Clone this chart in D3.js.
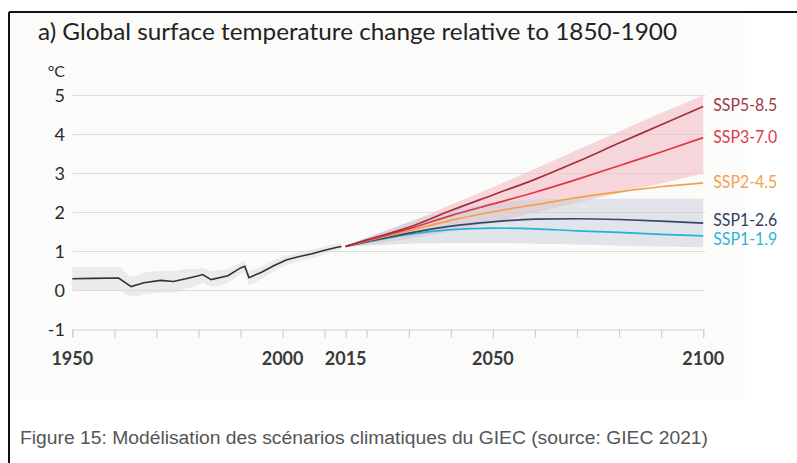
<!DOCTYPE html>
<html lang="fr">
<head>
<meta charset="utf-8">
<title>GIEC - température globale</title>
<script src="https://d3js.org/d3.v7.min.js"></script>
<style>
  body { margin: 0; background: #fff; }
  svg { display: block; }
  .tick-lbl { font-family: Lato, "Open Sans", sans-serif; font-size: 18px; fill: #2a2a2a; }
</style>
</head>
<body>
<script>
// historique (moyenne lissée) et plage grise
var histYears = [1950, 1955, 1961, 1964, 1967, 1971, 1974, 1977, 1980, 1981, 1983, 1987, 1990, 1991, 1992, 1995, 1998, 2001, 2004, 2007, 2010, 2013, 2014];
var histMean  = [0.30, 0.31, 0.32, 0.10, 0.20, 0.26, 0.23, 0.30, 0.38, 0.41, 0.28, 0.38, 0.58, 0.62, 0.33, 0.47, 0.64, 0.79, 0.87, 0.94, 1.03, 1.11, 1.13];
var histLow   = [0.00, 0.00, 0.00, -0.15, -0.10, -0.05, -0.05, 0.05, 0.15, 0.20, 0.10, 0.20, 0.42, 0.45, 0.15, 0.30, 0.50, 0.65, 0.75, 0.83, 0.93, 1.03, 1.05];
var histHigh  = [0.60, 0.60, 0.60, 0.35, 0.45, 0.50, 0.50, 0.55, 0.55, 0.58, 0.50, 0.55, 0.72, 0.75, 0.50, 0.62, 0.78, 0.90, 0.98, 1.05, 1.13, 1.20, 1.21];

// scénarios 2015-2100
var projYears = [2015, 2020, 2030, 2040, 2050, 2060, 2070, 2080, 2090, 2100];
var ssp585 = [1.13, 1.30, 1.62, 2.05, 2.45, 2.85, 3.30, 3.78, 4.25, 4.72];
var ssp370 = [1.13, 1.28, 1.58, 1.92, 2.22, 2.52, 2.85, 3.20, 3.55, 3.92];
var ssp245 = [1.13, 1.27, 1.53, 1.80, 2.02, 2.20, 2.38, 2.53, 2.66, 2.76];
var ssp126 = [1.13, 1.25, 1.47, 1.65, 1.76, 1.83, 1.84, 1.82, 1.78, 1.73];
var ssp119 = [1.13, 1.24, 1.44, 1.56, 1.60, 1.58, 1.53, 1.49, 1.44, 1.40];
var ssp370Low  = [1.13, 1.18, 1.32, 1.52, 1.75, 2.00, 2.25, 2.50, 2.75, 3.00];
var ssp370High = [1.13, 1.35, 1.75, 2.20, 2.65, 3.12, 3.60, 4.08, 4.55, 5.00];
var ssp126Low  = [1.13, 1.15, 1.20, 1.22, 1.22, 1.20, 1.18, 1.15, 1.13, 1.11];
var ssp126High = [1.13, 1.35, 1.75, 2.05, 2.25, 2.33, 2.35, 2.35, 2.35, 2.35];

var scenarioNames = ["SSP1-1.9", "SSP1-2.6", "SSP2-4.5", "SSP3-7.0", "SSP5-8.5"];
var scenarioColors = ["#25b2d6", "#34486e", "#f3a04a", "#e23545", "#a3303a"];
var labelColors = ["#2fb4d8", "#2f3f63", "#f2a14e", "#e0384a", "#9c3a46"];
var labelNudge = [3.5, -2.5, -1, 0, -1];

var yTicks = [-1, 0, 1, 2, 3, 4, 5];
var xTickLabels = [1950, 2000, 2015, 2050, 2100];
var xTickMarks = [1950, 1960, 1970, 1980, 1990, 2000, 2010, 2015, 2020, 2030, 2040, 2050, 2060, 2070, 2080, 2090, 2100];

var W = 797, H = 463;
var svg = d3.select("body").append("svg").attr("width", W).attr("height", H);

// fond pâle de la figure
svg.append("rect").attr("x", 10).attr("y", 13).attr("width", 735).attr("height", 387).attr("fill", "#fbfcfa");

// cadre
svg.append("line").attr("x1", 9).attr("x2", W).attr("y1", 12).attr("y2", 12).attr("stroke", "#111").attr("stroke-width", 2);
svg.append("line").attr("x1", 9).attr("x2", 9).attr("y1", 12).attr("y2", H).attr("stroke", "#111").attr("stroke-width", 2);

var x = d3.scaleLinear().domain([1950, 2100]).range([72.3, 703.2]);
var y = d3.scaleLinear().domain([-1, 5]).range([329.5, 95.5]);

// titre
svg.append("text").attr("x", 38).attr("y", 40)
  .attr("font-family", "Lato, sans-serif").attr("font-size", 22.5).attr("fill", "#222")
  .attr("textLength", 639).attr("lengthAdjust", "spacingAndGlyphs")
  .text("a) Global surface temperature change relative to 1850-1900");

svg.append("text").attr("x", 65).attr("y", 76.5).attr("text-anchor", "end")
  .attr("class", "tick-lbl").style("font-size", "16px")
  .text("°C");

// grille
svg.append("g").selectAll("line").data(yTicks.filter(function(d){ return d > -1; }))
  .join("line")
  .attr("x1", x(1950)).attr("x2", x(2100) + 2)
  .attr("y1", function(d){ return y(d); }).attr("y2", function(d){ return y(d); })
  .attr("stroke", "#dcdcdc").attr("stroke-width", 1.2);

// axe y (étiquettes)
svg.append("g").selectAll("text").data(yTicks).join("text")
  .attr("class", "tick-lbl")
  .attr("x", 65).attr("y", function(d){ return y(d); })
  .attr("dy", "0.36em").attr("text-anchor", "end")
  .text(function(d){ return d; });

// axe x
var xAxis = d3.axisBottom(x).tickValues(xTickMarks).tickSize(8).tickFormat("");
var gx = svg.append("g").attr("transform", "translate(0," + y(-1) + ")").call(xAxis);
gx.select(".domain").attr("stroke", "#cfcfcf").attr("stroke-width", 1.2);
gx.selectAll(".tick line").attr("stroke", "#cfcfcf").attr("stroke-width", 1.2);

svg.append("g").selectAll("text").data(xTickLabels).join("text")
  .attr("class", "tick-lbl").style("font-weight", "bold").style("fill", "#3a3a3a")
  .attr("x", function(d){ return x(d); }).attr("y", 365)
  .attr("text-anchor", "middle")
  .text(function(d){ return d; });

// plage historique
var hist = histYears.map(function(yr, i){ return {yr: yr, m: histMean[i], lo: histLow[i], hi: histHigh[i]}; });
var area = d3.area().x(function(d){ return x(d.yr); }).y0(function(d){ return y(d.lo); }).y1(function(d){ return y(d.hi); }).curve(d3.curveMonotoneX);
svg.append("path").datum(hist).attr("d", area).attr("fill", "#d8d8d8").attr("opacity", 0.45);

// plages des scénarios
var pink = projYears.map(function(yr, i){ return {yr: yr, lo: ssp370Low[i], hi: ssp370High[i]}; });
var grey = projYears.map(function(yr, i){ return {yr: yr, lo: ssp126Low[i], hi: ssp126High[i]}; });
svg.append("path").datum(pink).attr("d", area).attr("fill", "#f3c2cb").attr("opacity", 0.65);
svg.append("path").datum(grey).attr("d", area).attr("fill", "#c8ccd6").attr("opacity", 0.5);

var line = d3.line().x(function(d){ return x(d.yr); }).y(function(d){ return y(d.v); });
svg.append("path").datum(hist.map(function(d){ return {yr: d.yr, v: d.m}; }))
  .attr("d", line).attr("fill", "none").attr("stroke", "#333").attr("stroke-width", 1.6);

var series = [ssp119, ssp126, ssp245, ssp370, ssp585];
var projLine = d3.line().x(function(d){ return x(d.yr); }).y(function(d){ return y(d.v); }).curve(d3.curveMonotoneX);
series.forEach(function(vals, k){
  var pts = projYears.map(function(yr, i){ return {yr: yr, v: vals[i]}; });
  svg.append("path").datum(pts).attr("d", projLine)
    .attr("fill", "none").attr("stroke", scenarioColors[k]).attr("stroke-width", 1.7);
  svg.append("text")
    .attr("x", x(2100) + 10).attr("y", y(vals[vals.length - 1]) + labelNudge[k])
    .attr("dy", "0.35em")
    .attr("font-family", "Lato, sans-serif").attr("font-size", 16.5)
    .attr("textLength", 64).attr("lengthAdjust", "spacingAndGlyphs")
    .attr("fill", labelColors[k])
    .text(scenarioNames[k]);
});

// légende de la figure
svg.append("text").attr("x", 20).attr("y", 444)
  .attr("font-family", "Liberation Sans, Arial, sans-serif").attr("font-size", 18).attr("fill", "#555")
  .attr("textLength", 688).attr("lengthAdjust", "spacingAndGlyphs")
  .text("Figure 15: Modélisation des scénarios climatiques du GIEC (source: GIEC 2021)");
</script>
</body>
</html>
